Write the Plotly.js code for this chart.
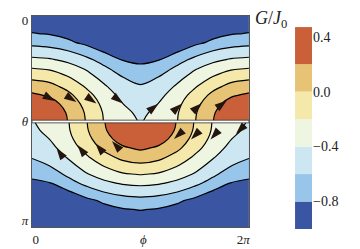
<!DOCTYPE html>
<html>
<head>
<meta charset="utf-8">
<script src="https://cdn.plot.ly/plotly-3.0.1.min.js"></script>
<style>html,body{margin:0;padding:0;background:#fff;}#chart{width:360px;height:249px;}</style>
</head>
<body>
<div id="chart"></div>
<script>
// grid coordinates (phi in radians, theta in radians)
var phiGrid = [0, 0.5236, 1.0472, 1.5708, 2.0944, 2.618, 3.1416, 3.6652, 4.1888, 4.7124, 5.236, 5.7596, 6.2832];
var thetaUpper = [0, 0.1309, 0.2618, 0.3927, 0.5236, 0.6545, 0.7854, 0.9163, 1.0472, 1.1781, 1.309, 1.4399, 1.5708];
var thetaLower = [1.5708, 1.7017, 1.8326, 1.9635, 2.0944, 2.2253, 2.3562, 2.4871, 2.618, 2.7489, 2.8798, 3.0107, 3.1416];

// G/J0 values (upper half: theta < pi/2)
var zUpper = [
  [-0.93, -0.93, -0.93, -0.93, -0.93, -0.93, -0.93, -0.93, -0.93, -0.93, -0.93, -0.93, -0.93],
  [-0.88, -0.885, -0.895, -0.905, -0.92, -0.925, -0.928, -0.925, -0.92, -0.905, -0.895, -0.885, -0.88],
  [-0.79, -0.817, -0.85, -0.87, -0.895, -0.91, -0.915, -0.91, -0.895, -0.87, -0.85, -0.817, -0.79],
  [-0.659, -0.683, -0.77, -0.845, -0.86, -0.88, -0.895, -0.88, -0.86, -0.845, -0.77, -0.683, -0.659],
  [-0.511, -0.536, -0.592, -0.705, -0.82, -0.84, -0.865, -0.84, -0.82, -0.705, -0.592, -0.536, -0.511],
  [-0.351, -0.377, -0.442, -0.543, -0.68, -0.805, -0.835, -0.805, -0.68, -0.543, -0.442, -0.377, -0.351],
  [-0.191, -0.223, -0.31, -0.417, -0.558, -0.699, -0.759, -0.699, -0.558, -0.417, -0.31, -0.223, -0.191],
  [-0.037, -0.076, -0.185, -0.318, -0.466, -0.593, -0.671, -0.593, -0.466, -0.318, -0.185, -0.076, -0.037],
  [0.101, 0.056, -0.063, -0.223, -0.377, -0.523, -0.582, -0.523, -0.377, -0.223, -0.063, 0.056, 0.101],
  [0.233, 0.174, 0.05, -0.131, -0.304, -0.454, -0.505, -0.454, -0.304, -0.131, 0.05, 0.174, 0.233],
  [0.337, 0.277, 0.13, -0.064, -0.252, -0.397, -0.449, -0.397, -0.252, -0.064, 0.13, 0.277, 0.337],
  [0.399, 0.339, 0.179, -0.023, -0.22, -0.38, -0.416, -0.38, -0.22, -0.023, 0.179, 0.339, 0.399],
  [0.42, 0.36, 0.195, -0.01, -0.21, -0.37, -0.405, -0.37, -0.21, -0.01, 0.195, 0.36, 0.42]
];

// lower half: theta > pi/2
var zLower = [
  [-0.405, -0.37, -0.21, -0.01, 0.195, 0.36, 0.42, 0.36, 0.195, -0.01, -0.21, -0.37, -0.405],
  [-0.416, -0.38, -0.22, -0.023, 0.179, 0.339, 0.399, 0.339, 0.179, -0.023, -0.22, -0.38, -0.416],
  [-0.449, -0.397, -0.252, -0.064, 0.13, 0.277, 0.337, 0.277, 0.13, -0.064, -0.252, -0.397, -0.449],
  [-0.505, -0.454, -0.304, -0.131, 0.05, 0.174, 0.233, 0.174, 0.05, -0.131, -0.304, -0.454, -0.505],
  [-0.582, -0.523, -0.377, -0.223, -0.063, 0.056, 0.101, 0.056, -0.063, -0.223, -0.377, -0.523, -0.582],
  [-0.671, -0.593, -0.466, -0.318, -0.185, -0.076, -0.037, -0.076, -0.185, -0.318, -0.466, -0.593, -0.671],
  [-0.759, -0.699, -0.558, -0.417, -0.31, -0.223, -0.191, -0.223, -0.31, -0.417, -0.558, -0.699, -0.759],
  [-0.835, -0.805, -0.68, -0.543, -0.442, -0.377, -0.351, -0.377, -0.442, -0.543, -0.68, -0.805, -0.835],
  [-0.865, -0.84, -0.82, -0.705, -0.592, -0.536, -0.511, -0.536, -0.592, -0.705, -0.82, -0.84, -0.865],
  [-0.895, -0.88, -0.86, -0.845, -0.77, -0.683, -0.659, -0.683, -0.77, -0.845, -0.86, -0.88, -0.895],
  [-0.915, -0.91, -0.895, -0.87, -0.85, -0.817, -0.79, -0.817, -0.85, -0.87, -0.895, -0.91, -0.915],
  [-0.928, -0.925, -0.92, -0.905, -0.895, -0.885, -0.88, -0.885, -0.895, -0.905, -0.92, -0.925, -0.928],
  [-0.93, -0.93, -0.93, -0.93, -0.93, -0.93, -0.93, -0.93, -0.93, -0.93, -0.93, -0.93, -0.93]
];

// flow arrowheads
var arrowPhi =   [0.666, 1.288, 1.867, 2.635, 3.662, 4.337, 4.916, 5.640, 0.709, 1.317, 1.838, 2.316, 4.111, 4.603, 5.168, 5.906];
var arrowTheta = [1.265, 1.280, 1.302, 1.302, 1.307, 1.307, 1.298, 1.257, 1.964, 1.920, 1.897, 1.860, 1.830, 1.838, 1.838, 1.756];
var arrowAngle = [118, 122, 125, 128, 52, 48, 48, 52, -35, -38, -40, -42, 228, 225, 222, 225];

// contour levels, colour bands (edges) and tick labels
var levelStart = -0.8, levelEnd = 0.2, levelStep = 0.2;
var bandEdges = [-1.0, -0.8, -0.6, -0.4, -0.2, 0.0, 0.2, 0.47];
var bandColors = ['#3a56a3', '#98c6ea', '#cce7f2', '#eef5e1', '#f4e9ab', '#e6c375', '#c9603a'];
var cbTickVals = [-0.8, -0.4, 0.0, 0.4];
var cbTickText = ['\u22120.8', '\u22120.4', '0.0', '0.4'];
var xTickVals = [0.11, 3.222, 6.117];
var xTickText = ['0', '<i>\u03d5</i>', '2<i>\u03c0</i>'];
var yTickVals = [0.07, 1.5708, 3.04];
var yTickText = ['0', '<i>\u03b8</i>', '<i>\u03c0</i>'];

var cscale = bandColors.map(function (c, i) { return [i / (bandColors.length - 1), c]; });
var serif = 'Liberation Serif, DejaVu Serif, serif';

function contourTrace(y, z) {
  return {
    type: 'contour', x: phiGrid, y: y, z: z, xaxis: 'x', yaxis: 'y',
    colorscale: cscale, autocontour: false,
    contours: {start: levelStart, end: levelEnd, size: levelStep, coloring: 'fill'},
    line: {color: '#000', width: 1.2, smoothing: 1},
    showscale: false, hoverinfo: 'skip'
  };
}

// colour bar drawn as stacked bands
var cbBase = bandEdges.slice(0, -1);
var cbHeight = cbBase.map(function (b, i) { return bandEdges[i + 1] - b; });

var data = [
  contourTrace(thetaUpper, zUpper),
  contourTrace(thetaLower, zLower),
  {
    type: 'scatter', mode: 'markers', x: arrowPhi, y: arrowTheta, hoverinfo: 'skip',
    xaxis: 'x', yaxis: 'y',
    marker: {symbol: 'arrow', size: 13, angle: arrowAngle, color: '#24150f', line: {width: 0}}
  },
  {
    type: 'bar', xaxis: 'x2', yaxis: 'y2', hoverinfo: 'skip',
    x: cbBase.map(function () { return 0; }), y: cbHeight, base: cbBase, width: 1,
    marker: {color: bandColors, line: {width: 0}}
  }
];

var layout = {
  width: 360, height: 249,
  margin: {l: 32, r: 8, t: 16, b: 20},
  paper_bgcolor: '#fff', plot_bgcolor: 'rgba(0,0,0,0)',
  showlegend: false, barmode: 'overlay',
  xaxis: {
    domain: [0, 0.678], range: [0, 6.2832], showgrid: false, zeroline: false,
    showline: true, mirror: true, linecolor: '#555', linewidth: 1.2,
    ticks: '', tickvals: xTickVals, ticktext: xTickText,
    tickfont: {family: serif, size: 13, color: '#222'}
  },
  yaxis: {
    domain: [0.0094, 1], range: [3.1416, 0], showgrid: false, zeroline: false,
    showline: true, mirror: true, linecolor: '#555', linewidth: 1.2,
    ticks: '', tickvals: yTickVals, ticktext: yTickText,
    tickfont: {family: serif, size: 13, color: '#222'}
  },
  xaxis2: {
    domain: [0.822, 0.875], range: [-0.5, 0.5], anchor: 'y2', visible: false, fixedrange: true
  },
  yaxis2: {
    domain: [0, 0.948], range: [-1.0, 0.47], anchor: 'x2', side: 'right',
    showgrid: false, zeroline: false, showline: false, ticks: '',
    tickvals: cbTickVals, ticktext: cbTickText,
    tickfont: {family: serif, size: 14, color: '#222'}
  },
  shapes: [{
    type: 'rect', xref: 'x', yref: 'y', x0: 0, x1: 6.2832, y0: 1.551, y1: 1.591,
    fillcolor: '#fff', line: {color: '#333', width: 0.8}
  }],
  annotations: [{
    xref: 'paper', yref: 'paper', x: 0.748, y: 0.985, xanchor: 'center', yanchor: 'middle',
    showarrow: false, text: '<i>G</i>/<i>J</i><sub>0</sub>',
    font: {family: serif, size: 18, color: '#222'}
  }]
};

Plotly.newPlot('chart', data, layout, {displayModeBar: false, staticPlot: true});
</script>
</body>
</html>
